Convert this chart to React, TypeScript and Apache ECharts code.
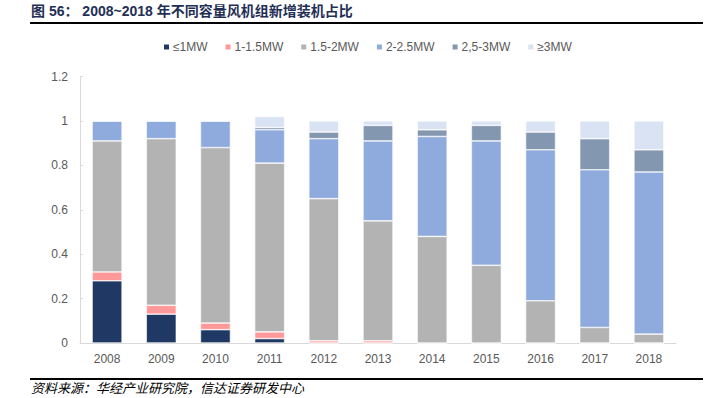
import React, { useEffect, useRef } from "react";
import * as echarts from "echarts";

const categories = ["2008", "2009", "2010", "2011", "2012", "2013", "2014", "2015", "2016", "2017", "2018"];
const seriesNames = ["≤1MW", "1-1.5MW", "1.5-2MW", "2-2.5MW", "2,5-3MW", "≥3MW"];
const le1 = [0.28, 0.13, 0.06, 0.02, 0, 0, 0, 0, 0, 0, 0];
const mw1to15 = [0.04, 0.04, 0.03, 0.03, 0.01, 0.01, 0, 0, 0, 0, 0];
const mw15to2 = [0.59, 0.75, 0.79, 0.76, 0.64, 0.54, 0.48, 0.35, 0.19, 0.07, 0.04];
const mw2to25 = [0.09, 0.08, 0.12, 0.15, 0.27, 0.36, 0.45, 0.56, 0.68, 0.71, 0.73];
const mw25to3 = [0, 0, 0, 0.01, 0.03, 0.07, 0.03, 0.07, 0.08, 0.14, 0.1];
const ge3 = [0, 0, 0, 0.05, 0.05, 0.02, 0.04, 0.02, 0.05, 0.08, 0.13];
const yTicks = [0, 0.2, 0.4, 0.6, 0.8, 1, 1.2];
const colors = ["#1F3864", "#FF9999", "#B3B3B3", "#8FAADC", "#8497B0", "#DAE3F3"];
const titleText = "图 56： 2008~2018 年不同容量风机组新增装机占比";
const sourceText = "资料来源：华经产业研究院，信达证券研发中心";

export default function App() {
  const ref = useRef<HTMLDivElement>(null);
  useEffect(() => {
    if (!ref.current) return;
    const chart = echarts.init(ref.current, null, { renderer: "svg" });
    const data = [le1, mw1to15, mw15to2, mw2to25, mw25to3, ge3];
    chart.setOption({
      animation: false,
      color: colors,
      textStyle: { fontFamily: "Liberation Sans, Arial, sans-serif" },
      legend: {
        top: 41,
        left: 162,
        padding: 0,
        itemWidth: 7,
        itemHeight: 7,
        itemGap: 16,
        icon: "rect",
        textStyle: { color: "#595959", fontSize: 12, padding: [0, 0, 0, -2] },
        data: seriesNames,
      },
      grid: { left: 80, right: 38, top: 76.5, bottom: 55, containLabel: false },
      xAxis: {
        type: "category",
        data: categories,
        axisLine: { lineStyle: { color: "#D9D9D9" } },
        axisTick: { inside: true, length: 4, lineStyle: { color: "#D9D9D9" } },
        axisLabel: { color: "#595959", fontSize: 12, margin: 10 },
      },
      yAxis: {
        type: "value",
        min: 0,
        max: yTicks[yTicks.length - 1],
        interval: 0.2,
        splitLine: { show: false },
        axisLine: { show: true, lineStyle: { color: "#D9D9D9" } },
        axisTick: { show: true, inside: true, length: 3, lineStyle: { color: "#D9D9D9" } },
        axisLabel: {
          color: "#595959",
          fontSize: 12,
          margin: 12,
          formatter: (v: number) => String(Math.round(v * 10) / 10),
        },
      },
      series: seriesNames.map((name, i) => ({
        name,
        type: "bar",
        stack: "total",
        barWidth: 30,
        data: data[i],
        itemStyle: { borderColor: "#FFFFFF", borderWidth: 0.6 },
      })),
      graphic: [
        {
          type: "text",
          left: 31,
          top: 4,
          style: {
            text: titleText,
            fill: "#1F2F55",
            font: "bold 14px 'Liberation Sans', 'Noto Sans CJK SC', sans-serif",
          },
        },
        {
          type: "line",
          shape: { x1: 30, y1: 23, x2: 703, y2: 23 },
          style: { stroke: "#000000", lineWidth: 2 },
        },
        {
          type: "line",
          shape: { x1: 30, y1: 379, x2: 703, y2: 379 },
          style: { stroke: "#000000", lineWidth: 2 },
        },
        {
          type: "text",
          left: 31,
          top: 381,
          style: {
            text: sourceText,
            fill: "#000000",
            font: "italic 13px 'Noto Sans CJK SC', sans-serif",
          },
        },
      ],
    });
    return () => chart.dispose();
  }, []);
  return <div ref={ref} style={{ width: 714, height: 398, position: "absolute", left: 0, top: 0 }} />;
}
